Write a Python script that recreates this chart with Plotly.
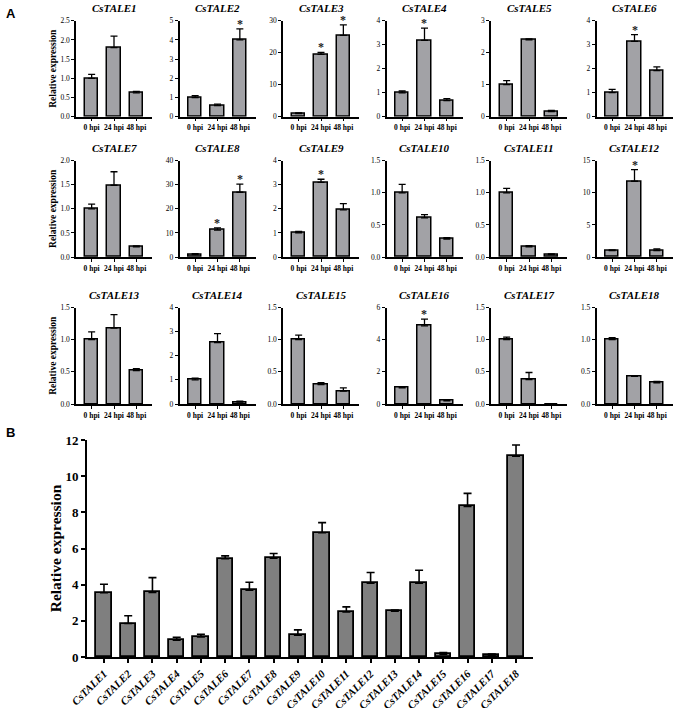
import plotly.graph_objects as go

W, H = 675, 708

genes = [f"CsTALE{i}" for i in range(1, 19)]
timepoints = ["0 hpi", "24 hpi", "48 hpi"]

# Panel A: relative expression at 0, 24, 48 hpi (mean, SD)
meansA = [
    [1.0, 1.8, 0.62], [1.0, 0.58, 4.0], [1.0, 19.5, 25.4],
    [0.99, 3.18, 0.67], [1.0, 2.40, 0.16], [1.0, 3.14, 1.92],
    [1.0, 1.49, 0.21], [1.0, 11.2, 26.9], [1.0, 3.1, 1.96],
    [1.0, 0.61, 0.28], [1.0, 0.16, 0.036], [1.0, 11.8, 1.0],
    [1.0, 1.18, 0.52], [1.0, 2.55, 0.08], [1.0, 0.30, 0.2],
    [1.0, 4.86, 0.2], [1.0, 0.38, 0.0], [1.0, 0.43, 0.33],
]
errsA = [
    [0.1, 0.3, 0.04], [0.1, 0.07, 0.57], [0.2, 0.6, 3.3],
    [0.08, 0.51, 0.08], [0.13, 0.03, 0.04], [0.14, 0.28, 0.16],
    [0.1, 0.28, 0.02], [0.4, 0.9, 3.4], [0.06, 0.13, 0.26],
    [0.13, 0.05, 0.02], [0.07, 0.015, 0.011], [0.1, 1.8, 0.25],
    [0.12, 0.21, 0.03], [0.07, 0.37, 0.04], [0.07, 0.03, 0.05],
    [0.04, 0.42, 0.05], [0.04, 0.11, 0.0], [0.03, 0.01, 0.02],
]
ymaxA = [2.5, 5, 30, 4, 3, 4, 2, 40, 4, 1.5, 1.5, 15, 1.5, 4, 1.5, 6, 1.5, 1.5]
dtickA = [0.5, 1, 10, 1, 1, 1, 0.5, 10, 1, 0.5, 0.5, 5, 0.5, 1, 0.5, 2, 0.5, 0.5]
starsA = {2: [2], 3: [1, 2], 4: [1], 6: [1], 8: [1, 2], 9: [1], 12: [1], 16: [1]}

# Panel B
meansB = [3.55, 1.85, 3.57, 0.93, 1.11, 5.43, 3.69, 5.46, 1.21, 6.87,
          2.49, 4.08, 2.53, 4.08, 0.15, 8.33, 0.09, 11.1]
errsB = [0.47, 0.43, 0.82, 0.16, 0.15, 0.16, 0.44, 0.26, 0.29, 0.56,
         0.28, 0.59, 0.07, 0.72, 0.09, 0.72, 0.08, 0.62]

SERIF = "Liberation Serif"
fig = go.Figure()
annotations = []

col_x0 = [76, 179.5, 283, 386.5, 491, 596.5]
panel_w = 76
row_y = [(20.7, 116.7), (160.7, 257.0), (307.5, 404.0)]


def fx(px):
    return px / W


def fy(py):
    return 1 - py / H


for k in range(18):
    r, c = divmod(k, 6)
    n = k + 1
    xa = "x" if n == 1 else f"x{n}"
    ya = "y" if n == 1 else f"y{n}"
    fig.add_trace(go.Bar(
        x=[0, 1, 2], y=meansA[k], width=0.6,
        marker=dict(color="#a2a2a6", line=dict(color="black", width=1.5)),
        error_y=dict(type="data", symmetric=False, array=errsA[k],
                     arrayminus=[0, 0, 0], color="black", thickness=1.3, width=3.5),
        xaxis=xa, yaxis=ya, showlegend=False,
    ))
    x0 = col_x0[c]
    y0, y1 = row_y[r]
    fmt = ".1f" if dtickA[k] < 1 else "d"
    ax_common = dict(showline=True, linecolor="black", linewidth=1.5,
                     ticks="outside", tickcolor="black", tickwidth=1.2,
                     ticklen=3, showgrid=False, zeroline=False, automargin=False)
    fig.layout[f"xaxis{'' if n == 1 else n}"] = dict(
        domain=[fx(x0), fx(x0 + panel_w)], anchor=ya,
        range=[-0.7, 2.7], tickvals=[0, 1, 2], tickangle=0,
        ticktext=[f"<b>{t}</b>" for t in timepoints],
        tickfont=dict(family=SERIF, size=7.5, color="black"), **ax_common)
    fig.layout[f"yaxis{'' if n == 1 else n}"] = dict(
        domain=[fy(y1), fy(y0)], anchor=xa,
        range=[0, ymaxA[k]], dtick=dtickA[k], tickformat=fmt,
        tickfont=dict(family=SERIF, size=7.5, color="black"),
        title=dict(text="<b>Relative expression</b>" if c == 0 else "",
                   font=dict(family=SERIF, size=9.5, color="black"), standoff=2),
        **ax_common)
    annotations.append(dict(
        text=f"<b><i>{genes[k]}</i></b>", x=fx(x0 + panel_w / 2), y=fy(y0 - 13),
        xref="paper", yref="paper", showarrow=False, xanchor="center", yanchor="middle",
        font=dict(family=SERIF, size=11, color="black")))
    for s in starsA.get(n, []):
        annotations.append(dict(
            text="<b>*</b>", x=s, y=meansA[k][s] + errsA[k][s], xref=xa, yref=ya,
            showarrow=False, yanchor="bottom", yshift=-4,
            font=dict(family=SERIF, size=12, color="#222")))

# Panel B
fig.add_trace(go.Bar(
    x=list(range(18)), y=meansB, width=0.63,
    marker=dict(color="#7f7f7f", line=dict(color="black", width=1.8)),
    error_y=dict(type="data", symmetric=False, array=errsB, arrayminus=[0] * 18,
                 color="black", thickness=1.6, width=4),
    xaxis="x19", yaxis="y19", showlegend=False,
))
fig.layout["xaxis19"] = dict(
    domain=[fx(87), fx(533)], anchor="y19", range=[-0.7, 17.7],
    tickvals=list(range(18)), ticktext=[f"<b><i>{g}</i></b>" for g in genes],
    tickangle=-45, tickfont=dict(family=SERIF, size=11, color="black"),
    showline=True, linecolor="black", linewidth=1.8, ticks="outside",
    tickcolor="black", tickwidth=1.5, ticklen=4, showgrid=False, zeroline=False,
    automargin=False)
fig.layout["yaxis19"] = dict(
    domain=[fy(657), fy(440)], anchor="x19", range=[0, 12], dtick=2,
    tickfont=dict(family=SERIF, size=13, color="black"), tickprefix="<b>", ticksuffix="</b>",
    title=dict(text="<b>Relative expression</b>",
               font=dict(family=SERIF, size=15.5, color="black"), standoff=0),
    showline=True, linecolor="black", linewidth=1.8, ticks="outside",
    tickcolor="black", tickwidth=1.5, ticklen=4, showgrid=False, zeroline=False,
    automargin=False)

annotations.append(dict(text="<b>A</b>", x=fx(4), y=fy(13), xref="paper", yref="paper",
                        showarrow=False, xanchor="left", yanchor="middle",
                        font=dict(family="Liberation Sans", size=13, color="black")))
annotations.append(dict(text="<b>B</b>", x=fx(4), y=fy(432), xref="paper", yref="paper",
                        showarrow=False, xanchor="left", yanchor="middle",
                        font=dict(family="Liberation Sans", size=13, color="black")))

fig.update_layout(width=W, height=H, margin=dict(l=0, r=0, t=0, b=0),
                  plot_bgcolor="white", paper_bgcolor="white",
                  annotations=annotations, bargap=0)
fig.write_html("out.html", config={"displayModeBar": False},
               post_script="document.body.style.margin='0';document.body.style.overflow='hidden';")
